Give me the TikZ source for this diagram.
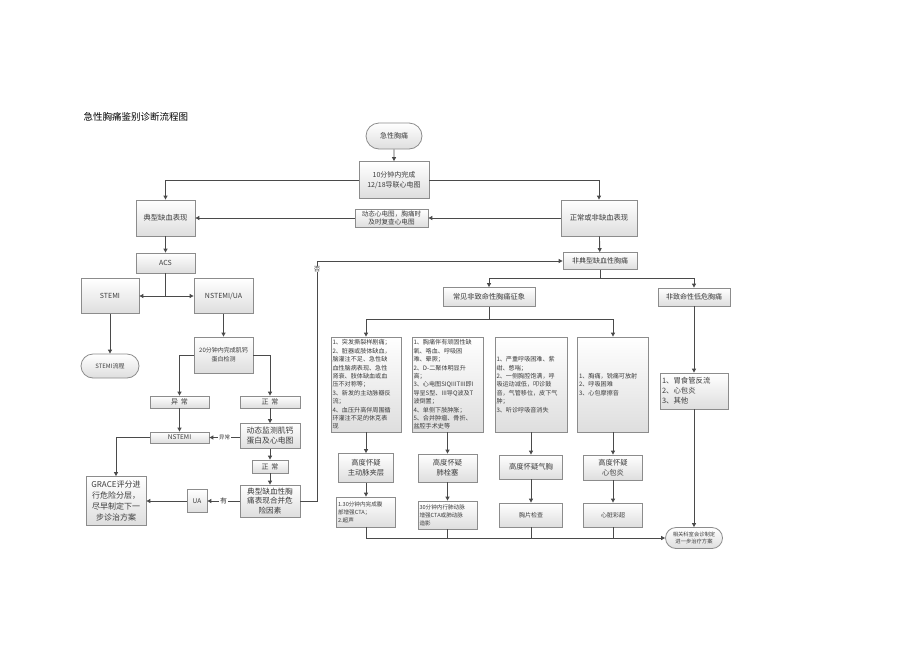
\documentclass[tikz,border=0pt]{standalone}
\usepackage{fontspec}
\setmainfont{Noto Sans CJK SC}
\usetikzlibrary{arrows.meta,shapes.misc}
\definecolor{bordc}{HTML}{8C8C8C}
\definecolor{fillc}{HTML}{DEDEDE}
\definecolor{linec}{HTML}{4A4A4A}
\definecolor{txtc}{HTML}{3C3C3C}
\newcommand\myfs[2]{\fontsize{#1}{#2}\selectfont}
\begin{document}
\begin{tikzpicture}[x=1pt,y=-1pt,
 box/.style={draw=bordc, line width=0.8pt, top color=white, bottom color=fillc, text=txtc, inner sep=1pt, align=center},
 pill/.style={box, rounded rectangle},
 wh/.style 2 args={minimum width=#1pt, minimum height=#2pt},
 arr/.style={draw=linec, line width=0.9pt, -{Triangle[length=4pt,width=4pt]}},
 ln/.style={draw=linec, line width=0.9pt},
 lab/.style={fill=white, text=txtc, inner sep=0.6pt}]
\useasboundingbox[fill=white] (0,0) rectangle (920,651);

\node[anchor=west, text=black, font=\myfs{9.5}{11}] (title) at (80,117) {急性胸痛鉴别诊断流程图};

% top
\node[pill, wh={58}{26}, font=\myfs{7}{8}] (start) at (394,136) {急性胸痛};
\node[box, wh={70}{37}, font=\myfs{7}{9.5}] (ten) at (394,180) {10分钟内完成\\12/18导联心电图};
\node[box, wh={59}{36}, font=\myfs{7.3}{9}] (typ) at (165.5,218) {典型缺血表现};
\node[box, wh={76}{36}, font=\myfs{7.3}{9}] (norm) at (599,218) {正常或非缺血表现};
\node[box, wh={73}{18}, font=\myfs{6.6}{7.8}] (dyn) at (391.5,218) {动态心电图，胸痛时\\及时复查心电图};
\node[box, wh={74}{17}, font=\myfs{7}{8}] (atyp) at (600,261) {非典型缺血性胸痛};
\node[box, wh={92}{19}, font=\myfs{7.2}{8}] (common) at (489,297) {常见非致命性胸痛征象};
\node[box, wh={72}{18}, font=\myfs{7}{8}] (low) at (694,297) {非致命性低危胸痛};

% four sign boxes
\node[box, wh={70}{95}, text width=67pt, align=left, font=\myfs{6.1}{8.4}] (box1) at (366,384.5)
 {1、突发撕裂样剧痛；\\2、脏器或肢体缺血，\\脑灌注不足、急性缺\\血性脑病表现、急性\\肾衰、肢体缺血或血\\压不对称等；\\3、新发的主动脉瓣反\\流；\\4、血压升高伴周围循\\环灌注不足的休克表\\现};
\node[box, wh={71}{95}, text width=68pt, align=left, font=\myfs{6.1}{8.4}] (box2) at (447.5,384.5)
 {1、胸痛伴有顽固性缺\\氧、咯血、呼吸困\\难、晕厥；\\2、D-二聚体明显升\\高；\\3、心电图SIQIIITIII即I\\导呈S型、III导Q波及T\\波倒置；\\4、单侧下肢肿胀；\\5、合并肿瘤、骨折、\\盆腔手术史等};
\node[box, wh={72}{95}, text width=69pt, align=left, font=\myfs{6.1}{8.4}] (box3) at (531,384.5)
 {1、严重呼吸困难、紫\\绀、憋喘；\\2、一侧胸腔饱满，呼\\吸运动减低，叩诊鼓\\音，气管移位，皮下气\\肿；\\3、听诊呼吸音消失};
\node[box, wh={71}{95}, text width=68pt, align=left, font=\myfs{6.1}{8.4}] (box4) at (613,384.5)
 {1、胸痛，锐痛可放射\\2、呼吸困难\\3、心包摩擦音};

\node[box, wh={55}{29}, font=\myfs{7.3}{10}] (hd1) at (366,468) {高度怀疑\\主动脉夹层};
\node[box, wh={59}{28}, font=\myfs{7.3}{10}] (hd2) at (447.5,468) {高度怀疑\\肺栓塞};
\node[box, wh={63}{24}, font=\myfs{7.3}{10}] (hd3) at (531,467) {高度怀疑气胸};
\node[box, wh={59}{25}, font=\myfs{7.3}{10}] (hd4) at (613,467.5) {高度怀疑\\心包炎};

\node[box, wh={59}{30}, text width=56pt, align=left, font=\myfs{5.6}{8}] (t1) at (366,512) {1.30分钟内完成腹\\部增强CTA；\\2.超声};
\node[box, wh={59}{28}, text width=56pt, align=left, font=\myfs{5.6}{8}] (t2) at (447.5,515) {30分钟内行肺动脉\\增强CTA或肺动脉\\造影};
\node[box, wh={63}{24}, font=\myfs{6}{8}] (t3) at (531,515) {胸片检查};
\node[box, wh={59}{24}, font=\myfs{6}{8}] (t4) at (613,515) {心脏彩超};

\node[box, wh={68}{36}, text width=64pt, align=left, font=\myfs{7.4}{10}] (lowlist) at (694,391) {1、胃食管反流\\2、心包炎\\3、其他};
\node[pill, wh={59}{21}, font=\myfs{5.3}{6.6}] (rel) at (694,538) {相关科室会诊制定\\进一步治疗方案};

% left side
\node[box, wh={59}{20}, font=\myfs{7}{8}] (acs) at (165.5,263) {ACS};
\node[box, wh={58}{35}, font=\myfs{7}{8}] (stemi) at (110,296) {STEMI};
\node[box, wh={59}{35}, font=\myfs{7}{8}] (nsua) at (223.5,296) {NSTEMI/UA};
\node[pill, wh={60}{24}, font=\myfs{6}{8}] (stemiflow) at (110,366) {STEMI流程};
\node[box, wh={59}{36}, font=\myfs{6}{9}] (trop) at (223.5,355) {20分钟内完成肌钙\\蛋白检测};
\node[box, wh={59}{12}, font=\myfs{7}{8}] (abn1) at (179.5,402) {异\hspace{3pt}常};
\node[box, wh={60}{12}, font=\myfs{7}{8}] (nor1) at (270,402) {正\hspace{3pt}常};
\node[box, wh={59}{11}, font=\myfs{6.5}{7.5}] (nst) at (179.5,437.5) {NSTEMI};
\node[box, wh={60}{25}, font=\myfs{7.8}{10}] (dyn2) at (270,436) {动态监测肌钙\\蛋白及心电图};
\node[box, wh={36}{13}, font=\myfs{7}{8}] (nor2) at (270,466.5) {正\hspace{3pt}常};
\node[box, wh={60}{32}, font=\myfs{7.6}{9.6}] (typ2) at (270,501) {典型缺血性胸\\痛表现合并危\\险因素};
\node[box, wh={20}{23}, font=\myfs{6.5}{8}] (ua) at (197,501) {UA};
\node[box, wh={60}{49}, font=\myfs{8}{11}] (grace) at (116,501) {GRACE评分进\\行危险分层，\\尽早制定下一\\步诊治方案};

% connectors top
\draw[arr] (start) -- (ten);
\draw[arr] (ten.west) -| (typ.north);
\draw[arr] (ten.east) -| (norm.north);
\draw[arr] (norm.west) -- (dyn.east);
\draw[arr] (dyn.west) -- (typ.east);
\draw[arr] (norm) -- (atyp);
\path (atyp.south) ++(0,9) coordinate (ja);
\draw[ln] (atyp.south) -- (ja);
\draw[arr] (ja) -| (common.north);
\draw[arr] (ja) -| (low.north);
\path (common.south) ++(0,13) coordinate (jb);
\draw[ln] (common.south) -- (jb);
\draw[arr] (jb) -| (box1.north);
\draw[arr] (jb) -| (box4.north);
\draw[arr] (box1) -- (hd1);
\draw[arr] (box2) -- (hd2);
\draw[arr] (box3) -- (hd3);
\draw[arr] (box4) -- (hd4);
\draw[arr] (hd1) -- (t1);
\draw[arr] (hd2) -- (t2);
\draw[arr] (hd3) -- (t3);
\draw[arr] (hd4) -- (t4);
\draw[arr] (t1.south) |- (rel.west);
\draw[ln] (t2.south) -- (t2.south |- rel.west);
\draw[ln] (t3.south) -- (t3.south |- rel.west);
\draw[ln] (t4.south) -- (t4.south |- rel.west);
\draw[arr] (low) -- (lowlist);
\draw[arr] (lowlist) -- (rel);

% connectors left
\draw[arr] (typ) -- (acs);
\path (acs.south |- stemi.east) coordinate (jc);
\draw[ln] (acs.south) -- (jc);
\draw[arr] (jc) -- (stemi.east);
\draw[arr] (jc) -- (nsua.west);
\draw[arr] (stemi) -- (stemiflow);
\draw[arr] (nsua) -- (trop);
\draw[arr] (trop.west) -| (abn1.north);
\draw[arr] (trop.east) -| (nor1.north);
\draw[arr] (abn1) -- (nst);
\draw[arr] (nor1) -- (dyn2);
\draw[arr] (dyn2.west |- nst.east) -- (nst.east) node[lab, midway, font=\myfs{5.5}{6}] {异常};
\draw[arr] (dyn2) -- (nor2);
\draw[arr] (nor2) -- (typ2);
\draw[arr] (typ2.west) -- (ua.east) node[lab, midway, font=\myfs{7}{8}] {有};
\draw[arr] (ua) -- (grace);
\draw[arr] (nst.west) -| (grace.north);
\coordinate (vx) at (317,0);
\draw[arr] (typ2.east) -| (atyp.west -| vx) -- (atyp.west);
\node[lab, font=\myfs{6.5}{7}] (fou) at (317,269) {否};
\end{tikzpicture}
\end{document}
